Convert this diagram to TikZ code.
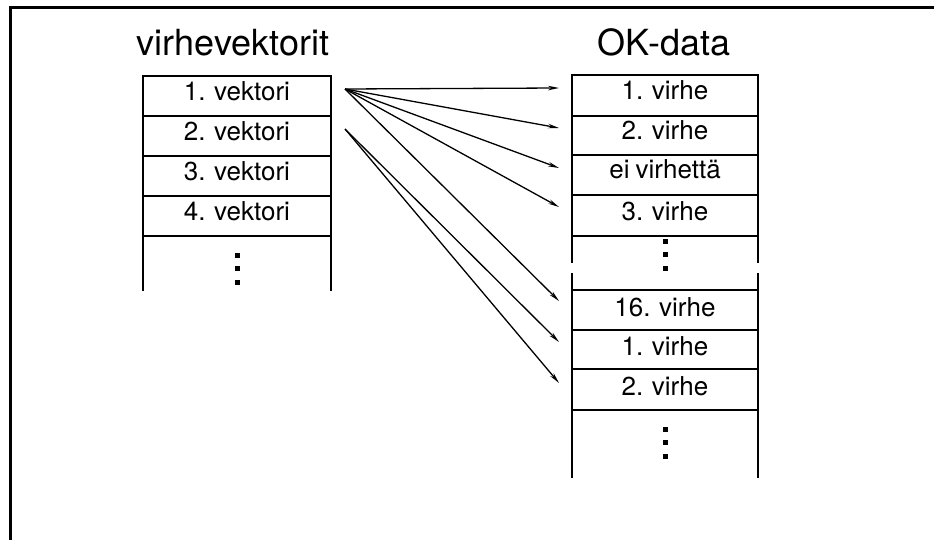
\documentclass[tikz,border=0pt]{standalone}
\usepackage{fontspec}
\setmainfont{TeX Gyre Heros}
\newfontfamily\cellfont[WordSpace=0.85]{TeX Gyre Heros}
\usetikzlibrary{arrows.meta}
\tikzset{
  boxline/.style={line width=2.8pt, line cap=rect},
  frameline/.style={line width=3pt},
  celltext/.style={font=\cellfont\fontsize{26}{28}\selectfont, inner sep=0pt, anchor=base},
  titletext/.style={font=\fontsize{36}{40}\selectfont, inner sep=0pt, anchor=base},
  ptr/.style={line width=1.3pt, -{Stealth[length=11pt,width=4.5pt]}},
  dotmark/.style={fill=black, minimum size=5pt, inner sep=0pt, rectangle}
}
\begin{document}
\begin{tikzpicture}[x=1pt,y=-1pt]
\useasboundingbox (0,0) rectangle (934,540);
% frame
\draw[frameline] (10,540) -- (10,8) -- (934,8);

% titles
\node[titletext] (t1) at (233,56) {virhevektorit};
\node[titletext] (t2) at (664,56) {OK-data};

% left column
\draw[boxline] (143,290) -- (143,76) -- (331,76) -- (331,290);
\foreach \y in {116,156,196,236} \draw[boxline] (143,\y) -- (331,\y);
\node[celltext] (v1) at (237,101) {1. vektori};
\node[celltext] (v2) at (237,141) {2. vektori};
\node[celltext] (v3) at (237,181) {3. vektori};
\node[celltext] (v4) at (237,221) {4. vektori};
\foreach \y/\n in {255/a,268/b,282/c} \node[dotmark] (ld\n) at (237,\y) {};

% right column, block 1
\draw[boxline] (572,262) -- (572,75) -- (758,75) -- (758,262);
\foreach \y in {116,155,195,236} \draw[boxline] (572,\y) -- (758,\y);
\node[celltext] (o1) at (665,100) {1. virhe};
\node[celltext] (o2) at (665,140) {2. virhe};
\node[celltext] (o3) at (665,179) {ei virhettä};
\node[celltext] (o4) at (665,221) {3. virhe};
\foreach \y/\n in {241/a,254/b,268/c} \node[dotmark] (rd\n) at (665,\y) {};

% right column, block 2
\draw[boxline] (572,274) -- (572,477);
\draw[boxline] (758,274) -- (758,477);
\foreach \y in {290,330,369,410} \draw[boxline] (572,\y) -- (758,\y);
\node[celltext] (o5) at (665,316) {16. virhe};
\node[celltext] (o6) at (665,355) {1. virhe};
\node[celltext] (o7) at (665,395) {2. virhe};
\foreach \y/\n in {429/a,442/b,456/c} \node[dotmark] (sd\n) at (665,\y) {};

% arrows
\coordinate (s1) at (345,89);
\coordinate (s2) at (345,129);
\coordinate (e1) at (559,88);
\coordinate (e2) at (559,128);
\coordinate (e3) at (559,168);
\coordinate (e4) at (559,207);
\coordinate (e5) at (559,301);
\coordinate (e6) at (559,342);
\coordinate (e7) at (559,383);
\foreach \e in {e1,e2,e3,e4,e5} \draw[ptr] (s1) -- (\e);
\foreach \e in {e6,e7} \draw[ptr] (s2) -- (\e);
\end{tikzpicture}
\end{document}
